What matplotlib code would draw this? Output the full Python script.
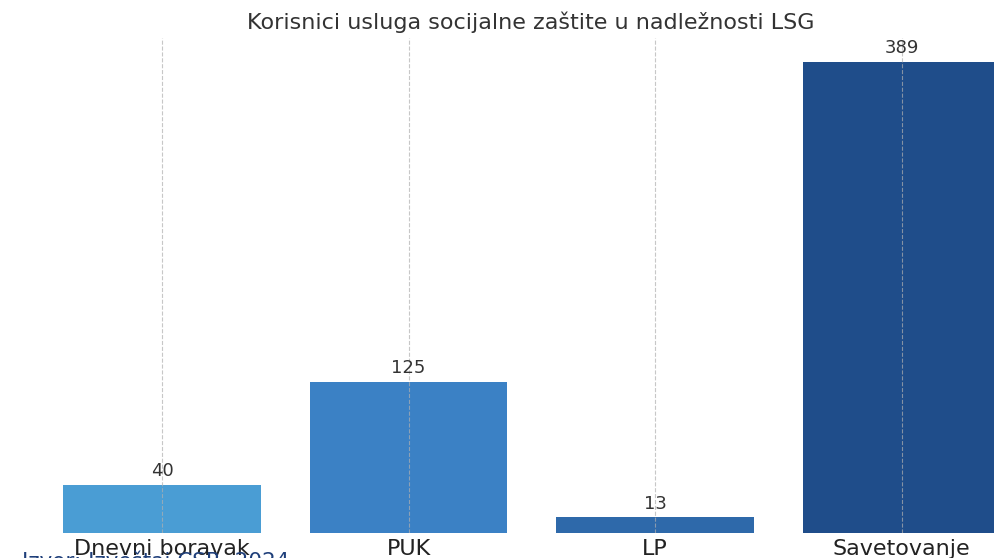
import matplotlib
matplotlib.use("Agg")
import matplotlib.pyplot as plt

categories = ["Dnevni boravak", "PUK", "LP", "Savetovanje"]
values = [40, 125, 13, 389]
colors = ["#4A9DD4", "#3B81C5", "#2E69AA", "#1F4D8A"]
title = "Korisnici usluga socijalne zaštite u nadležnosti LSG"
footer = "Izvor: Izveštaj CSR, 2024"

W, H = 995, 558
fig = plt.figure(figsize=(W / 100, H / 100), dpi=100)
left, right, bottom, top = 16.6, 1047, 533, 38
ax = fig.add_axes([left / W, 1 - bottom / H, (right - left) / W, (bottom - top) / H])

x = range(len(categories))
bars = ax.bar(x, values, width=0.8, color=colors, zorder=2)
ax.set_xlim(-0.59, 3.59)
ax.set_ylim(0, max(values) * 1.05)

for b, v in zip(bars, values):
    ax.annotate(str(v), (b.get_x() + b.get_width() / 2, b.get_height()),
                xytext=(0, 3), textcoords="offset points",
                ha="center", va="bottom", fontsize=13, color="#333333")

ax.set_xticks(list(x))
ax.set_xticklabels(categories, fontsize=16, color="#222222")
ax.tick_params(axis="x", length=0, pad=4)
ax.set_yticks([])
for s in ax.spines.values():
    s.set_visible(False)
ax.xaxis.grid(True, linestyle="--", color="#b0b0b0", alpha=0.7, linewidth=0.8, zorder=3)
ax.set_axisbelow(False)

fig.text(531 / W, 1 - 22 / H, title, ha="center", va="center", fontsize=16, color="#333333")
fig.text(290 / W, 1 - 551 / H, footer, ha="right", va="top", fontsize=15.5, color="#1F3F7A")

fig.savefig("out.png", dpi=100)
